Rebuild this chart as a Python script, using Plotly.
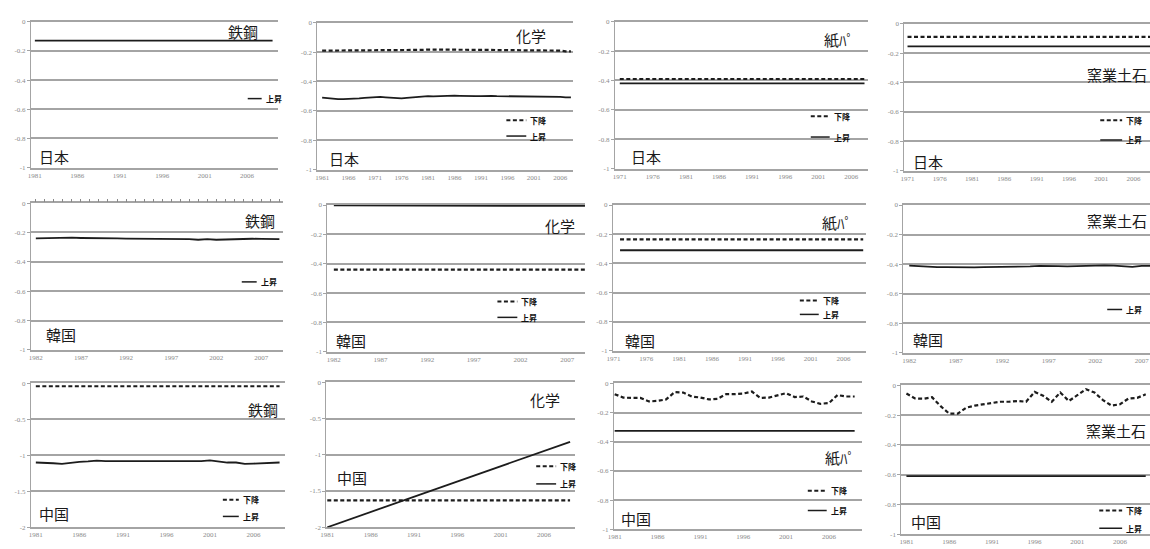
import plotly.graph_objects as go

W, H = 1150, 549

# ---------------- data ----------------
# 日本
jp_steel_years = list(range(1981, 2010))
jp_steel_up = [-0.13, -0.13, -0.13, -0.13, -0.13, -0.13, -0.13, -0.13, -0.13, -0.13,
               -0.13, -0.13, -0.13, -0.13, -0.13, -0.13, -0.13, -0.13, -0.13, -0.13,
               -0.13, -0.13, -0.13, -0.13, -0.13, -0.13, -0.13, -0.13, -0.13]

jp_chem_years = list(range(1961, 2009))
jp_chem_down = [-0.19, -0.19, -0.19, -0.19, -0.19, -0.19, -0.19, -0.19, -0.19, -0.19,
                -0.19, -0.19, -0.19, -0.19, -0.19, -0.19, -0.19, -0.185, -0.185,
                -0.185, -0.183, -0.183, -0.182, -0.182, -0.18, -0.18, -0.18, -0.182,
                -0.183, -0.183, -0.184, -0.185, -0.185, -0.186, -0.186,
                -0.187, -0.187, -0.188, -0.188, -0.188, -0.189, -0.189, -0.19, -0.19,
                -0.19, -0.19, -0.195, -0.195]
jp_chem_up = [-0.51, -0.515, -0.52, -0.52, -0.52, -0.52, -0.518, -0.515, -0.512, -0.508,
              -0.505, -0.505, -0.508, -0.512, -0.515, -0.515, -0.512, -0.508, -0.503, -0.5,
              -0.5, -0.502, -0.5, -0.498, -0.497, -0.497, -0.498, -0.5, -0.5, -0.5,
              -0.5, -0.498, -0.498, -0.5, -0.5, -0.5, -0.502, -0.502, -0.5, -0.5,
              -0.5, -0.502, -0.505, -0.505, -0.505, -0.505, -0.508, -0.508]

jp_paper_years = list(range(1971, 2009))
jp_paper_down = [-0.39, -0.39, -0.39, -0.39, -0.39, -0.39, -0.39, -0.39, -0.39, -0.39,
                 -0.39, -0.39, -0.39, -0.39, -0.39, -0.39, -0.39, -0.39, -0.39, -0.39,
                 -0.39, -0.39, -0.39, -0.39, -0.39, -0.39, -0.39, -0.39, -0.39, -0.39,
                 -0.39, -0.39, -0.39, -0.39, -0.39, -0.39, -0.39, -0.39]
jp_paper_up = [-0.42, -0.42, -0.42, -0.42, -0.42, -0.42, -0.42, -0.42, -0.42, -0.42,
               -0.42, -0.42, -0.42, -0.42, -0.42, -0.42, -0.42, -0.42, -0.42, -0.42,
               -0.42, -0.42, -0.42, -0.42, -0.42, -0.42, -0.42, -0.42, -0.42, -0.42,
               -0.42, -0.42, -0.42, -0.42, -0.42, -0.42, -0.42, -0.42]

jp_cera_years = list(range(1971, 2010))
jp_cera_down = [-0.09, -0.09, -0.09, -0.09, -0.09, -0.09, -0.09, -0.09, -0.09, -0.09,
                -0.09, -0.09, -0.09, -0.09, -0.09, -0.09, -0.09, -0.09, -0.09, -0.09,
                -0.09, -0.09, -0.09, -0.09, -0.09, -0.09, -0.09, -0.09, -0.09, -0.09,
                -0.09, -0.09, -0.09, -0.09, -0.09, -0.09, -0.09, -0.09, -0.09]
jp_cera_up = [-0.155, -0.155, -0.155, -0.155, -0.155, -0.155, -0.155, -0.155, -0.155, -0.155,
              -0.155, -0.155, -0.155, -0.155, -0.155, -0.155, -0.155, -0.155, -0.155, -0.155,
              -0.155, -0.155, -0.155, -0.155, -0.155, -0.155, -0.155, -0.155, -0.155, -0.155,
              -0.155, -0.155, -0.155, -0.155, -0.155, -0.155, -0.155, -0.155, -0.155]

# 韓国
kr_steel_years = list(range(1982, 2010))
kr_steel_up = [-0.24, -0.238, -0.236, -0.235, -0.236, -0.238, -0.24, -0.24, -0.24, -0.241,
               -0.242, -0.242, -0.242, -0.242, -0.243, -0.243, -0.244, -0.246, -0.25, -0.246,
               -0.25, -0.247, -0.245, -0.244, -0.243, -0.244, -0.245, -0.245]

kr_chem_years = list(range(1982, 2010))
kr_chem_down = [-0.44, -0.44, -0.44, -0.438, -0.437, -0.435, -0.436, -0.438, -0.44, -0.44,
                -0.44, -0.44, -0.438, -0.438, -0.44, -0.44, -0.44, -0.44, -0.44, -0.44,
                -0.44, -0.44, -0.44, -0.44, -0.44, -0.44, -0.44, -0.44]
kr_chem_up = [-0.003, -0.003, -0.003, -0.004, -0.004, -0.006, -0.007, -0.005, -0.003, -0.003,
              -0.003, -0.003, -0.003, -0.003, -0.003, -0.003, -0.004, -0.005, -0.006, -0.006,
              -0.006, -0.006, -0.006, -0.006, -0.006, -0.006, -0.006, -0.006]

kr_paper_years = list(range(1972, 2010))
kr_paper_down = [-0.235, -0.235, -0.235, -0.235, -0.235, -0.235, -0.235, -0.235, -0.235, -0.235,
                 -0.235, -0.235, -0.235, -0.235, -0.235, -0.235, -0.235, -0.235, -0.235, -0.235,
                 -0.235, -0.235, -0.235, -0.235, -0.235, -0.235, -0.235, -0.235, -0.235, -0.235,
                 -0.235, -0.235, -0.235, -0.235, -0.235, -0.235, -0.235, -0.235]
kr_paper_up = [-0.31, -0.31, -0.31, -0.31, -0.31, -0.31, -0.31, -0.31, -0.31, -0.31,
               -0.31, -0.31, -0.31, -0.31, -0.31, -0.31, -0.31, -0.31, -0.31, -0.31,
               -0.31, -0.31, -0.31, -0.31, -0.31, -0.31, -0.31, -0.31, -0.31, -0.31,
               -0.31, -0.31, -0.31, -0.31, -0.31, -0.31, -0.31, -0.31]

kr_cera_years = list(range(1982, 2010))
kr_cera_up = [-0.41, -0.415, -0.418, -0.42, -0.42, -0.422, -0.422, -0.422, -0.42, -0.42,
              -0.418, -0.418, -0.416, -0.415, -0.412, -0.41, -0.413, -0.415, -0.412, -0.41,
              -0.41, -0.408, -0.41, -0.415, -0.418, -0.412, -0.41, -0.41]

# 中国
cn_steel_years = list(range(1981, 2010))
cn_steel_down = [-0.04, -0.04, -0.04, -0.04, -0.04, -0.04, -0.04, -0.04, -0.04, -0.04,
                 -0.04, -0.04, -0.04, -0.04, -0.04, -0.04, -0.04, -0.04, -0.04, -0.04,
                 -0.04, -0.04, -0.04, -0.04, -0.04, -0.04, -0.04, -0.04, -0.04]
cn_steel_up = [-1.10, -1.10, -1.11, -1.12, -1.10, -1.09, -1.085, -1.075, -1.08, -1.08,
               -1.08, -1.085, -1.09, -1.09, -1.09, -1.09, -1.085, -1.09, -1.09, -1.08,
               -1.07, -1.09, -1.10, -1.10, -1.12, -1.115, -1.11, -1.10, -1.10]

cn_chem_years = list(range(1981, 2010))
cn_chem_down = [-1.63, -1.63, -1.63, -1.63, -1.63, -1.63, -1.63, -1.63, -1.63, -1.63,
                -1.63, -1.63, -1.63, -1.63, -1.63, -1.63, -1.63, -1.63, -1.63, -1.63,
                -1.63, -1.63, -1.63, -1.63, -1.63, -1.63, -1.63, -1.63, -1.63]
cn_chem_up = [-2.000, -1.958, -1.916, -1.874, -1.831, -1.789, -1.747, -1.705, -1.663, -1.621,
              -1.579, -1.536, -1.494, -1.452, -1.410, -1.368, -1.326, -1.284, -1.241, -1.199,
              -1.157, -1.115, -1.073, -1.031, -0.989, -0.946, -0.904, -0.862, -0.820]

cn_paper_years = list(range(1981, 2010))
cn_paper_down = [-0.074, -0.097, -0.10, -0.10, -0.124, -0.12, -0.11, -0.06, -0.063, -0.09,
                 -0.097, -0.11, -0.106, -0.074, -0.074, -0.07, -0.056, -0.10, -0.097, -0.083,
                 -0.067, -0.094, -0.09, -0.124, -0.14, -0.135, -0.08, -0.09, -0.09]
cn_paper_up = [-0.325, -0.325, -0.325, -0.325, -0.325, -0.325, -0.325, -0.325, -0.325, -0.325,
               -0.325, -0.325, -0.325, -0.325, -0.325, -0.325, -0.325, -0.325, -0.325, -0.325,
               -0.325, -0.325, -0.325, -0.325, -0.325, -0.325, -0.325, -0.325, -0.325]

cn_cera_years = list(range(1981, 2010))
cn_cera_down = [-0.055, -0.088, -0.09, -0.08, -0.14, -0.19, -0.19, -0.15, -0.136, -0.127,
                -0.114, -0.11, -0.11, -0.105, -0.11, -0.044, -0.07, -0.11, -0.048, -0.105,
                -0.066, -0.026, -0.048, -0.099, -0.136, -0.127, -0.088, -0.084, -0.06]
cn_cera_up = [-0.61, -0.61, -0.61, -0.61, -0.61, -0.61, -0.61, -0.61, -0.61, -0.61,
              -0.61, -0.61, -0.61, -0.61, -0.61, -0.61, -0.61, -0.61, -0.61, -0.61,
              -0.61, -0.61, -0.61, -0.61, -0.61, -0.61, -0.61, -0.61, -0.61]

ticks_1981 = [1981, 1986, 1991, 1996, 2001, 2006]
ticks_1961 = [1961, 1966, 1971, 1976, 1981, 1986, 1991, 1996, 2001, 2006]
ticks_1971 = [1971, 1976, 1981, 1986, 1991, 1996, 2001, 2006]
ticks_1982 = [1982, 1987, 1992, 1997, 2002, 2007]

LABEL_DOWN = "下降"
LABEL_UP = "上昇"

# ---------------- panel layout (pixel boxes) ----------------
panels = [
    # row 1: 日本
    dict(x=jp_steel_years, up=jp_steel_up, down=None, box=(25, 18, 273, 166),
         xr=(1980.53, 2009.59), xt=ticks_1981, ymin=-1,
         ind="鉄鋼", ind_xy=(238, 28, "center"), cty="日本", cty_xy=(48, 155),
         leg=[("up", 243, 257, 96)]),
    dict(x=jp_chem_years, up=jp_chem_up, down=jp_chem_down, box=(313, 19, 570, 168),
         xr=(1960.1, 2008.4), xt=ticks_1961, ymin=-1,
         ind="化学", ind_xy=(528, 32, "center"), cty="日本", cty_xy=(340, 157),
         leg=[("down", 503, 523, 118), ("up", 503, 523, 134)]),
    dict(x=jp_paper_years, up=jp_paper_up, down=jp_paper_down, box=(612, 18, 867, 167),
         xr=(1970.25, 2008.6), xt=ticks_1971, ymin=-1,
         ind="紙ﾊﾟ", ind_xy=(837, 36, "center"), cty="日本", cty_xy=(643, 155),
         leg=[("down", 809, 828, 114), ("up", 809, 828, 135)]),
    dict(x=jp_cera_years, up=jp_cera_up, down=jp_cera_down, box=(903, 20, 1150, 169),
         xr=(1970.5, 2008.56), xt=ticks_1971, ymin=-1,
         ind="窯業土石", ind_xy=(1149, 72, "right"), cty="日本", cty_xy=(927, 160),
         leg=[("down", 1100, 1122, 118), ("up", 1100, 1122, 138)]),
    # row 2: 韓国
    dict(x=kr_steel_years, up=kr_steel_up, down=None, box=(25, 202, 278, 351),
         xr=(1981.45, 2009.35), xt=ticks_1982, ymin=-1,
         ind="鉄鋼", ind_xy=(255, 220, "center"), cty="韓国", cty_xy=(55, 335),
         leg=[("up", 237, 252, 282)]),
    dict(x=kr_chem_years, up=kr_chem_up, down=kr_chem_down, box=(323, 204, 582, 353),
         xr=(1981.3, 2008.9), xt=ticks_1982, ymin=-1,
         ind="化学", ind_xy=(557, 225, "center"), cty="韓国", cty_xy=(347, 341),
         leg=[("down", 494, 514, 302), ("up", 494, 514, 318)]),
    dict(x=kr_paper_years, up=kr_paper_up, down=kr_paper_down, box=(610, 204, 865, 352),
         xr=(1970.9, 2009.5), xt=ticks_1971, ymin=-1,
         ind="紙ﾊﾟ", ind_xy=(835, 222, "center"), cty="韓国", cty_xy=(637, 341),
         leg=[("down", 798, 817, 301), ("up", 798, 817, 315)]),
    dict(x=kr_cera_years, up=kr_cera_up, down=None, box=(902, 204, 1150, 354),
         xr=(1981.36, 2007.9), xt=ticks_1982, ymin=-1,
         ind="窯業土石", ind_xy=(1149, 220, "right"), cty="韓国", cty_xy=(927, 340),
         leg=[("up", 1107, 1122, 310)]),
    # row 3: 中国
    dict(x=cn_steel_years, up=cn_steel_up, down=cn_steel_down, box=(25, 385, 280, 531),
         xr=(1980.43, 2009.57), xt=ticks_1981, ymin=-2,
         ind="鉄鋼", ind_xy=(258, 412, "center"), cty="中国", cty_xy=(48, 517),
         leg=[("down", 218, 234, 503), ("up", 218, 234, 520)]),
    dict(x=cn_chem_years, up=cn_chem_up, down=cn_chem_down, box=(322, 384, 572, 531),
         xr=(1980.89, 2009.57), xt=ticks_1981, ymin=-2,
         ind="化学", ind_xy=(542, 401, "center"), cty="中国", cty_xy=(348, 480),
         leg=[("down", 533, 553, 469), ("up", 533, 553, 487)]),
    dict(x=cn_paper_years, up=cn_paper_up, down=cn_paper_down, box=(611, 385, 860, 533),
         xr=(1980.9, 2009.8), xt=ticks_1981, ymin=-1,
         ind="紙ﾊﾟ", ind_xy=(838, 460, "center"), cty="中国", cty_xy=(633, 522),
         leg=[("down", 806, 825, 494), ("up", 806, 825, 514)]),
    dict(x=cn_cera_years, up=cn_cera_up, down=cn_cera_down, box=(900, 387, 1150, 538),
         xr=(1980.4, 2009.5), xt=ticks_1981, ymin=-1,
         ind="窯業土石", ind_xy=(1148, 433, "right"), cty="中国", cty_xy=(925, 525),
         leg=[("down", 1099, 1122, 514), ("up", 1099, 1122, 532)]),
]

LINE = "#1c1c1c"
GRID = "#a4a4a4"
TICKF = dict(family="Liberation Serif", size=7, color="#8a8a8a")
CJK = "Noto Sans CJK JP"
DASH = "4px,2.5px"


def fx(px):
    return px / W


def fy(py):
    return 1 - py / H


def fmt(v):
    return "%g" % v


fig = go.Figure()
layout = dict(width=W, height=H, margin=dict(l=0, r=0, t=0, b=0),
              paper_bgcolor="white", plot_bgcolor="white", showlegend=False)
shapes, annotations = [], []

for i, p in enumerate(panels, start=1):
    xa, ya = ("x" if i == 1 else f"x{i}"), ("y" if i == 1 else f"y{i}")
    xk, yk = ("xaxis" if i == 1 else f"xaxis{i}"), ("yaxis" if i == 1 else f"yaxis{i}")
    l, t, r, b = p["box"]

    if p["down"] is not None:
        fig.add_trace(go.Scatter(x=p["x"], y=p["down"], mode="lines", xaxis=xa, yaxis=ya,
                                 line=dict(color=LINE, width=2.2, dash=DASH)))
    fig.add_trace(go.Scatter(x=p["x"], y=p["up"], mode="lines", xaxis=xa, yaxis=ya,
                             line=dict(color=LINE, width=1.8)))

    if p["ymin"] == -2:
        yt = [0, -0.5, -1, -1.5, -2]
    else:
        yt = [0, -0.2, -0.4, -0.6, -0.8, -1]

    layout[xk] = dict(domain=[fx(l), min(fx(r), 1.0)], range=list(p["xr"]), anchor=ya,
                      tickmode="array", tickvals=p["xt"], ticktext=[str(v) for v in p["xt"]],
                      tickfont=TICKF, showgrid=False, zeroline=False,
                      showline=True, linecolor=GRID, linewidth=1.5,
                      mirror=True, ticks="", fixedrange=True, layer="below traces")
    layout[yk] = dict(domain=[fy(b), fy(t)], range=[p["ymin"], 0], anchor=xa,
                      tickmode="array", tickvals=yt, ticktext=[fmt(v) for v in yt],
                      tickfont=TICKF, showgrid=True, gridcolor=GRID, gridwidth=1.5,
                      zeroline=False, showline=True, linecolor=GRID, linewidth=1,
                      ticks="outside", ticklen=3, tickcolor=GRID, fixedrange=True,
                      layer="below traces")

    # industry name and country name
    ix, iy, ianchor = p["ind_xy"]
    annotations.append(dict(x=fx(ix), y=fy(iy), xref="paper", yref="paper", text=p["ind"],
                            showarrow=False, xanchor=ianchor, yanchor="middle",
                            font=dict(family=CJK, size=15, color="#1a1a1a")))
    cx, cy = p["cty_xy"]
    annotations.append(dict(x=fx(cx), y=fy(cy), xref="paper", yref="paper", text=p["cty"],
                            showarrow=False, xanchor="center", yanchor="middle",
                            font=dict(family=CJK, size=15, color="#1a1a1a")))

    # legend keys
    for kind, x0, x1, ly in p["leg"]:
        shapes.append(dict(type="line", xref="paper", yref="paper",
                           x0=fx(x0), x1=fx(x1), y0=fy(ly), y1=fy(ly),
                           line=dict(color=LINE, width=2 if kind == "down" else 1.5,
                                     dash=DASH if kind == "down" else "solid")))
        annotations.append(dict(x=fx(x1 + 2), y=fy(ly), xref="paper", yref="paper",
                                text="<b>%s</b>" % (LABEL_DOWN if kind == "down" else LABEL_UP),
                                showarrow=False, xanchor="left", yanchor="middle",
                                font=dict(family=CJK, size=8, color="#111")))

# year ticks along the zero line of the Korean steel panel
n = len(panels) + 1
p5 = panels[4]
fig.add_trace(go.Scatter(x=[p5["x"][0]], y=[None], mode="lines", xaxis=f"x{n}", yaxis="y5",
                         hoverinfo="skip"))
layout[f"xaxis{n}"] = dict(overlaying="x5", side="top", anchor="y5", range=list(p5["xr"]),
                           tickmode="linear", tick0=p5["x"][0], dtick=1, ticks="outside",
                           ticklen=3, tickcolor="#888", showticklabels=False, showgrid=False,
                           zeroline=False, showline=False, fixedrange=True)

layout["shapes"] = shapes
layout["annotations"] = annotations
fig.update_layout(**layout)
fig.write_html("out.html")
